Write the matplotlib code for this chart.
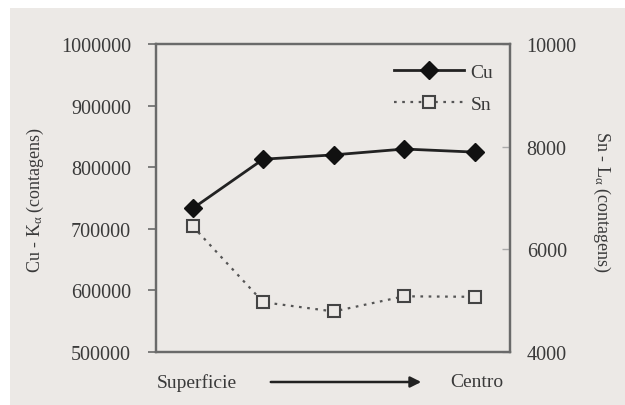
import matplotlib
matplotlib.use("Agg")
import matplotlib.pyplot as plt
from matplotlib.patches import Rectangle
from matplotlib.lines import Line2D
from matplotlib.ticker import FixedLocator, StrMethodFormatter

positions = [0, 1, 2, 3, 4]
cu_counts = [733000, 813000, 820000, 829500, 824500]
sn_counts = [6450, 4970, 4790, 5085, 5075]
left_ticks = [500000, 600000, 700000, 800000, 900000, 1000000]
right_ticks = [4000, 6000, 8000, 10000]

plt.rcParams['font.family'] = ['Liberation Serif', 'DejaVu Serif']
plt.rcParams['mathtext.fontset'] = 'custom'
plt.rcParams['mathtext.rm'] = 'Liberation Serif'
plt.rcParams['mathtext.it'] = 'Liberation Serif:italic'
bg = '#ece9e6'
txt = '#3a3a3a'
fig = plt.figure(figsize=(6.25, 4.06), dpi=100, facecolor='white')
fig.patches.append(Rectangle((10/625, 0), 1, 1 - 9/406, transform=fig.transFigure,
                             facecolor=bg, edgecolor='none', zorder=-10))

ax = fig.add_axes([156/625, 1 - 353/406, (510 - 156)/625, (353 - 45)/406])
ax.set_facecolor('none')
ax2 = ax.twinx()

spine_c = '#6a6a6a'
for a in (ax, ax2):
    for s in a.spines.values():
        s.set_color(spine_c)
        s.set_linewidth(1.6)

ax.plot(positions, cu_counts, color='#222222', lw=2, marker='D', ms=9,
        mfc='#111111', mec='#111111', zorder=3)
ax2.plot(positions, sn_counts, color='#555555', lw=1.6, ls=(0, (1.2, 2.5)),
         marker='s', ms=9, mfc=bg, mec='#444444', mew=1.5, zorder=3)

ax.set_xlim(-0.52, 4.5)
ax.set_ylim(500000, 1000000)
ax.yaxis.set_major_locator(FixedLocator(left_ticks))
ax.yaxis.set_major_formatter(StrMethodFormatter('{x:.0f}'))
ax.set_xticks([])
ax2.set_ylim(4000, 10000)
ax2.yaxis.set_major_locator(FixedLocator(right_ticks))
ax2.yaxis.set_major_formatter(StrMethodFormatter('{x:.0f}'))

ax.tick_params(axis='y', direction='out', length=6, width=1.2, color=spine_c,
               labelsize=14.5, labelcolor=txt, pad=12)
ax2.tick_params(axis='y', direction='in', length=6, width=1.0, color='#aaaaaa',
                labelsize=14.5, labelcolor=txt, pad=12)

fig.text(35/625, 1 - 200/406, r'Cu - K$_{\mathrm{\alpha}}$ (contagens)', rotation=90,
         ha='center', va='center', fontsize=13, color=txt)
fig.text(602/625, 1 - 202/406, r'Sn - L$_{\mathrm{\alpha}}$ (contagens)', rotation=270,
         ha='center', va='center', fontsize=13, color=txt)

handles = [Line2D([], [], color='#222222', lw=2, marker='D', ms=9, mfc='#111111', mec='#111111'),
           Line2D([], [], color='#555555', lw=1.6, ls=(0, (1.2, 2.5)), marker='s', ms=9,
                  mfc=bg, mec='#444444', mew=1.5)]
leg = ax.legend(handles, ['Cu', 'Sn'], loc='upper right', bbox_to_anchor=(0.985, 0.975),
                frameon=False, fontsize=14, handlelength=3.6, handletextpad=0.3,
                labelspacing=0.75, borderaxespad=0.2)
for t in leg.get_texts():
    t.set_color(txt)

fig.text(157/625, 1 - 383/406, 'Superficie', ha='left', va='center', fontsize=14, color=txt)
fig.text(503/625, 1 - 383/406, 'Centro', ha='right', va='center', fontsize=14, color=txt)
ax.annotate('', xy=(424/625, 1 - 383/406), xytext=(268/625, 1 - 383/406),
            xycoords='figure fraction', textcoords='figure fraction',
            arrowprops=dict(arrowstyle='-|>', color='#222222', lw=1.8, mutation_scale=16))

fig.savefig('out.png', dpi=100, facecolor='white')
